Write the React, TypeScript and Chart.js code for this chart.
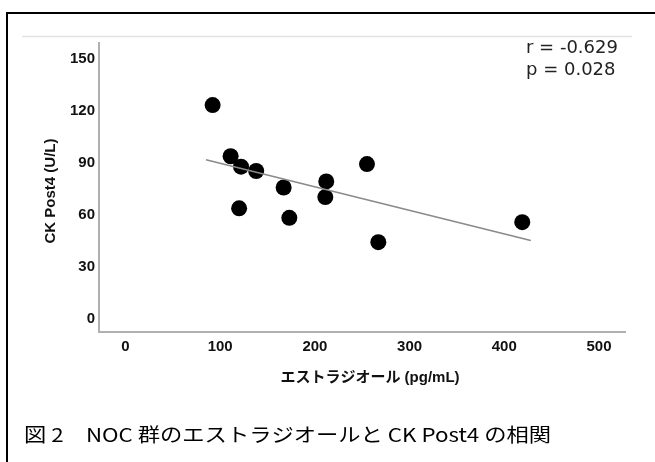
import React, { useEffect, useRef } from "react";
import { Chart, registerables } from "chart.js";

Chart.register(...registerables);

const estradiol = [92, 111, 122, 138, 120, 167, 173, 212, 211, 255, 267, 419];
const ckPost4 = [123.5, 94, 88, 85.5, 64, 76, 58.5, 79.5, 70.5, 89.5, 44.5, 56];
const fitX = [85, 428];
const fitY = [92, 45.5];
const xTicks = [0, 100, 200, 300, 400, 500];
const yTicks = [0, 30, 60, 90, 120, 150];
const statLines = ["r = -0.629", "p = 0.028"];
const xTitle = "エストラジオール (pg/mL)";
const yTitle = "CK Post4 (U/L)";
const caption = "図 2　NOC 群のエストラジオールと CK Post4 の相関";

const W = 655;
const H = 462;

const decor = {
  id: "decor",
  afterDraw(chart: any) {
    const ctx = chart.ctx as CanvasRenderingContext2D;
    const area = chart.chartArea;
    ctx.save();
    // outer frame (left + top)
    ctx.strokeStyle = "#000";
    ctx.lineWidth = 2;
    ctx.beginPath();
    ctx.moveTo(7, H);
    ctx.lineTo(7, 13);
    ctx.lineTo(W, 13);
    ctx.stroke();
    // light top rule
    ctx.strokeStyle = "#e2e2e2";
    ctx.lineWidth = 1.5;
    ctx.beginPath();
    ctx.moveTo(22, 36.5);
    ctx.lineTo(632, 36.5);
    ctx.stroke();
    // stats
    ctx.fillStyle = "#222";
    ctx.font = '18px "DejaVu Sans"';
    ctx.textAlign = "left";
    ctx.textBaseline = "middle";
    ctx.fillText(statLines[0], 526, 48);
    ctx.fillText(statLines[1], 526, 70);
    // axis titles
    ctx.fillStyle = "#111";
    ctx.font = 'bold 15px "Liberation Sans", "Noto Sans CJK JP"';
    ctx.textAlign = "center";
    ctx.fillText(xTitle, (area.left + area.right) / 2 + 8, 378);
    ctx.save();
    ctx.translate(51, 191);
    ctx.rotate(-Math.PI / 2);
    ctx.fillText(yTitle, 0, 0);
    ctx.restore();
    // caption
    ctx.fillStyle = "#000";
    ctx.font = '19px "Noto Sans CJK JP"';
    ctx.textAlign = "left";
    const target = 527;
    const w = ctx.measureText(caption).width;
    ctx.save();
    ctx.translate(24, 435);
    ctx.scale(target / w, 1);
    ctx.fillText(caption, 0, 0);
    ctx.restore();
    ctx.restore();
  },
};

export default function App() {
  const ref = useRef<HTMLCanvasElement | null>(null);
  useEffect(() => {
    if (!ref.current) return;
    const chart = new Chart(ref.current, {
      type: "scatter",
      data: {
        datasets: [
          {
            type: "line",
            data: fitX.map((x, i) => ({ x, y: fitY[i] })),
            borderColor: "#8a8a8a",
            borderWidth: 1.6,
            pointRadius: 0,
            fill: false,
          } as any,
          {
            data: estradiol.map((x, i) => ({ x, y: ckPost4[i] })),
            backgroundColor: "#000",
            borderColor: "#000",
            pointRadius: 8,
            borderWidth: 0,
          },
        ],
      },
      plugins: [decor],
      options: {
        responsive: false,
        animation: false,
        devicePixelRatio: 1,
        layout: { padding: { left: 0, right: 30, top: 43, bottom: 0 } },
        plugins: { legend: { display: false }, tooltip: { enabled: false } },
        scales: {
          x: {
            type: "linear",
            min: -28,
            max: 527.5,
            afterFit: (s: any) => {
              s.height = 130;
            },
            afterBuildTicks: (s: any) => {
              s.ticks = xTicks.map((v) => ({ value: v }));
            },
            grid: { display: true, drawOnChartArea: false, drawTicks: false },
            border: { color: "#b0b0b0", width: 2 },
            ticks: {
              padding: 6,
              color: "#111",
              font: { family: "Liberation Sans", size: 15, weight: "bold" },
            },
          },
          y: {
            type: "linear",
            min: -7.3,
            max: 159.3,
            afterFit: (s: any) => {
              s.width = 99;
            },
            afterBuildTicks: (s: any) => {
              s.ticks = yTicks.map((v) => ({ value: v }));
            },
            grid: { display: true, drawOnChartArea: false, drawTicks: false },
            border: { color: "#b0b0b0", width: 2 },
            ticks: {
              padding: 4,
              color: "#111",
              font: { family: "Liberation Sans", size: 15, weight: "bold" },
            },
          },
        },
      },
    } as any);
    return () => chart.destroy();
  }, []);
  return (
    <div style={{ position: "absolute", left: 0, top: 0, width: W, height: H, background: "#fff" }}>
      <canvas ref={ref} width={W} height={H} style={{ display: "block" }} />
    </div>
  );
}
